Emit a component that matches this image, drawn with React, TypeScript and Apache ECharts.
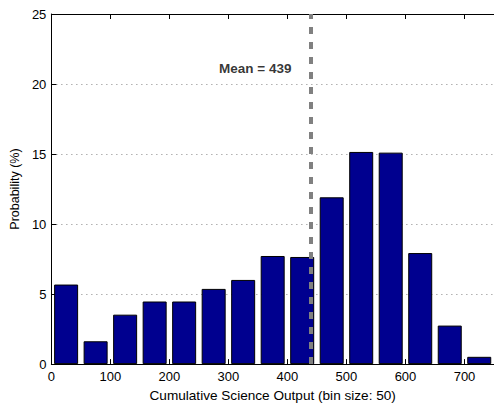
import React, { useEffect, useRef } from "react";
import * as echarts from "echarts";

const binCenters = [25, 75, 125, 175, 225, 275, 325, 375, 425, 475, 525, 575, 625, 675, 725];
const probabilities = [5.68, 1.63, 3.53, 4.47, 4.47, 5.37, 6.01, 7.72, 7.65, 11.91, 15.15, 15.1, 7.93, 2.75, 0.52];
const meanValue = 439;
const meanLabelY = 21.1;
const xTicks = [0, 100, 200, 300, 400, 500, 600, 700];

const FONT = "'Liberation Sans', Arial, Helvetica, sans-serif";

export default function App() {
  const ref = useRef<HTMLDivElement>(null);
  useEffect(() => {
    if (!ref.current) return;
    const chart = echarts.init(ref.current, undefined, { renderer: "svg" });
    const barData = binCenters.map((c, i) => [c, probabilities[i]]);
    chart.setOption({
      animation: false,
      backgroundColor: "#ffffff",
      textStyle: { fontFamily: FONT },
      grid: { left: 50, top: 14, width: 446.7, height: 352, containLabel: false },
      xAxis: [
        {
          type: "value",
          min: 0,
          max: 750,
          interval: 100,
          position: "bottom",
          name: "Cumulative Science Output (bin size: 50)",
          nameLocation: "middle",
          nameGap: 23,
          nameTextStyle: { fontFamily: FONT, fontSize: 13.6, color: "#000" },
          axisLine: { show: true, onZero: false, lineStyle: { color: "#000", width: 1 } },
          axisTick: { show: true, inside: true, length: 5, lineStyle: { color: "#000" } },
          axisLabel: {
            fontFamily: FONT,
            fontSize: 13,
            color: "#000",
            margin: 6,
            showMaxLabel: false,
            formatter: (v: number) => (xTicks.includes(v) ? String(v) : ""),
          },
          splitLine: { show: false },
        },
        {
          type: "value",
          min: 0,
          max: 750,
          interval: 100,
          position: "top",
          axisLine: { show: true, onZero: false, lineStyle: { color: "#000", width: 1 } },
          axisTick: { show: true, inside: true, length: 5, lineStyle: { color: "#000" } },
          axisLabel: { show: false },
          splitLine: { show: false },
        },
      ],
      yAxis: {
        type: "value",
        min: 0,
        max: 25,
        interval: 5,
        name: "Probability (%)",
        nameLocation: "middle",
        nameGap: 25,
        nameTextStyle: { fontFamily: FONT, fontSize: 12.5, color: "#000" },
        axisLine: { show: true, onZero: false, lineStyle: { color: "#000", width: 1 } },
        axisTick: { show: true, inside: true, length: 5, lineStyle: { color: "#000" } },
        axisLabel: { fontFamily: FONT, fontSize: 13, color: "#000", margin: 5 },
        splitLine: { show: true, lineStyle: { color: "#888", width: 1, type: [1, 4] } },
      },
      series: [
        {
          type: "bar",
          xAxisIndex: 0,
          data: barData,
          barWidth: 24,
          itemStyle: { color: "#00008f", borderColor: "#000", borderWidth: 1 },
          markLine: {
            silent: true,
            symbol: "none",
            label: { show: false },
            lineStyle: { color: "#808080", width: 4, type: [7, 8] },
            data: [{ xAxis: meanValue }],
          },
          z: 2,
        },
        {
          type: "scatter",
          xAxisIndex: 0,
          data: [[meanValue, meanLabelY]],
          symbolSize: 0,
          silent: true,
          label: {
            show: true,
            position: "left",
            distance: 19,
            formatter: "Mean = " + meanValue,
            fontFamily: FONT,
            fontWeight: "bold",
            fontSize: 13.5,
            color: "#000",
          },
          z: 5,
        },
      ],
    });
    return () => chart.dispose();
  }, []);
  return (
    <div
      ref={ref}
      style={{ position: "fixed", left: 0, top: 0, width: 494, height: 407, overflow: "hidden", background: "#fff" }}
    />
  );
}
